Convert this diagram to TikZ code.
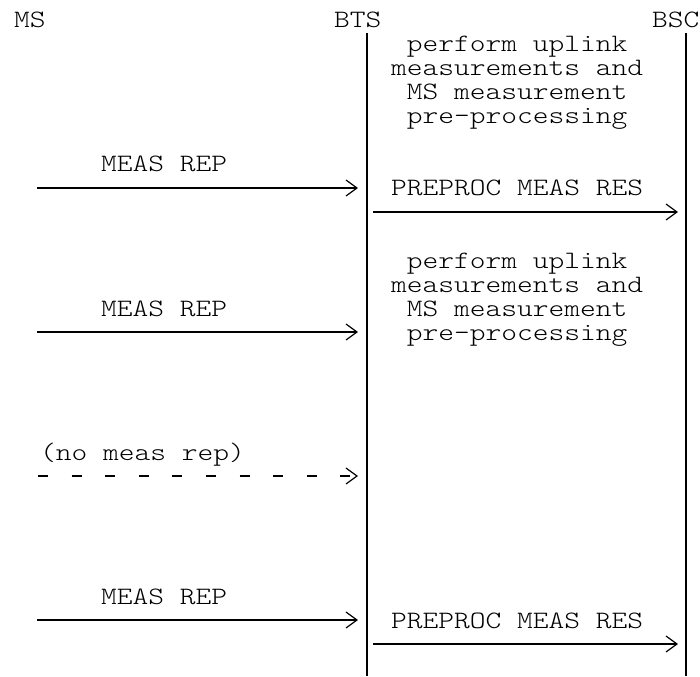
\documentclass[tikz,border=0pt]{standalone}
\usepackage{fontspec}
\newfontfamily\monofont{Latin Modern Mono Light}[FakeStretch=1.2]
\usetikzlibrary{arrows.meta}
\tikzset{
  txt/.style={inner sep=0pt, font=\monofont\fontsize{25}{24}\selectfont, anchor=base},
  txtw/.style={txt, anchor=base west},
  life/.style={line width=2.2pt},
  msg/.style={line width=1.8pt, -{Straight Barb[length=11pt,width=16pt,line width=1.2pt]}},
  nomsg/.style={msg, dash pattern=on 10pt off 23.6pt}
}
\begin{document}
\begin{tikzpicture}[x=1pt,y=-1pt]
\useasboundingbox (0,0) rectangle (700,676);
% headers
\node[txtw] (ms)  at (14,28)  {MS};
\node[txtw] (bts) at (334,28) {BTS};
\node[txtw] (bsc) at (652,28) {BSC};
% lifelines
\coordinate (btsT) at (367,33);  \coordinate (btsB) at (367,676);
\coordinate (bscT) at (686,33);  \coordinate (bscB) at (686,676);
\draw[life] (btsT) -- (btsB);
\draw[life] (bscT) -- (bscB);
% block 1
\node[txt] (b1a) at (517,52)  {perform uplink};
\node[txt] (b1b) at (517,76)  {measurements and};
\node[txt] (b1c) at (517,100) {MS measurement};
\node[txt] (b1d) at (517,124) {pre-processing};
% message 1
\node[txt] (m1) at (164,172) {MEAS REP};
\coordinate (m1s) at (37,188); \coordinate (m1e) at (358,188);
\draw[msg] (m1s) -- (m1e);
\node[txt] (p1) at (517,196) {PREPROC MEAS RES};
\coordinate (p1s) at (373,212); \coordinate (p1e) at (678,212);
\draw[msg] (p1s) -- (p1e);
% block 2
\node[txt] (b2a) at (517,268) {perform uplink};
\node[txt] (b2b) at (517,292) {measurements and};
\node[txt] (b2c) at (517,316) {MS measurement};
\node[txt] (b2d) at (517,340) {pre-processing};
\node[txt] (m2) at (164,316) {MEAS REP};
\coordinate (m2s) at (37,332); \coordinate (m2e) at (358,332);
\draw[msg] (m2s) -- (m2e);
% no meas rep
\node[txtw] (nm) at (40,460) {(no meas rep)};
\coordinate (nms) at (38,476); \coordinate (nme) at (358,476);
\draw[nomsg] (nms) -- (nme);
% message 3
\node[txt] (m3) at (164,604) {MEAS REP};
\coordinate (m3s) at (37,620); \coordinate (m3e) at (358,620);
\draw[msg] (m3s) -- (m3e);
\node[txt] (p3) at (517,628) {PREPROC MEAS RES};
\coordinate (p3s) at (373,644); \coordinate (p3e) at (678,644);
\draw[msg] (p3s) -- (p3e);
\end{tikzpicture}
\end{document}
